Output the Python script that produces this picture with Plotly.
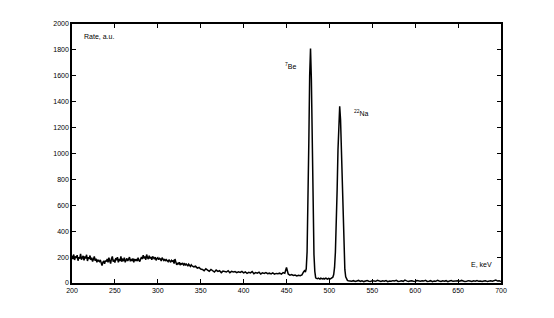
import plotly.graph_objects as go

# Energy grids (keV)
energy_a = list(range(200, 341, 1))
energy_b = list(range(342, 471, 2))
energy_peaks = list(range(471, 526, 1))
energy_high = list(range(526, 701, 2))

# Rate values (a.u.)
rate_a = [
    210, 185, 220, 178, 205, 195, 215, 172, 200, 188,
    225, 180, 196, 210, 175, 205, 190, 218, 170, 200,
    185, 212, 178, 195, 165, 190, 205, 172, 188, 160,
    180, 170, 165, 178, 150, 135, 160, 170, 148, 175,
    165,
    185, 160, 195, 172, 150, 188, 205, 165, 180, 158,
    192, 175, 200, 160, 185, 170, 205, 165, 182, 175,
    195, 160, 178, 190, 170, 185, 200, 168, 180, 172,
    190, 160, 185, 175, 180, 170, 195, 175, 165, 185,
    200, 185, 215, 190, 205, 180, 220, 195, 185, 210,
    190, 200, 180, 205, 195, 185, 200, 175, 190, 195,
    180, 190, 185, 170, 195, 180, 175, 185, 170, 180,
    175, 165, 180, 170, 160, 175, 168, 172, 150, 185,
    150, 140, 155, 145, 160, 138, 150, 145, 155, 140,
    148, 135, 150, 142, 130, 145, 138, 128, 140, 132,
]
rate_b = [
    125, 130, 115, 120, 108,
    105, 95, 110, 100, 90, 105, 95, 85, 100, 90, 95, 80, 92, 88, 85, 95, 80, 90, 85, 88, 80, 86, 82, 90, 78,
    85, 75, 82, 78, 88, 72, 80, 76, 84, 70, 78, 74, 80, 72, 76, 70, 78, 68, 74, 72, 76, 68, 80, 75, 120,
    70, 60, 65, 58, 62, 55, 60, 57, 63, 88,
]
rate_peaks = [
    95, 85, 110, 240, 560, 1080, 1600, 1810, 1570, 1060, 540, 220, 90,
    40, 36, 33, 38, 35, 30, 37, 34, 32, 36, 31, 35, 38, 33, 30, 36, 34, 31, 36, 40,
    45, 65, 120, 240, 440, 715, 1025, 1270, 1365, 1260, 1010, 700, 420, 222, 105, 48, 28,
    20, 18, 16, 19, 15,
]
rate_high = [
    14, 18, 12, 16, 20, 13, 17, 11, 15, 19,
    14, 12, 18, 16, 13, 21, 15, 12, 17, 14,
    19, 11, 16, 13, 18, 15, 20, 12, 14, 17,
    13, 22, 16, 11, 15, 18, 14, 12, 19, 16,
    13, 17, 15, 21, 12, 14, 18, 11, 16, 13,
    20, 15, 12, 17, 14, 18, 11, 16, 19, 13,
    15, 12, 17, 14, 20, 16, 11, 13, 18, 15,
    12, 17, 14, 19, 13, 16, 12, 15, 18, 11,
    14, 17, 13, 16, 22, 15, 18, 12,
]

energy = energy_a + energy_b + energy_peaks + energy_high
rate = rate_a + rate_b + rate_peaks + rate_high

x_ticks = [200, 250, 300, 350, 400, 450, 500, 550, 600, 650, 700]
y_ticks = [0, 200, 400, 600, 800, 1000, 1200, 1400, 1600, 1800, 2000]

fig = go.Figure()
fig.add_trace(go.Scatter(x=energy, y=rate, mode="lines",
                         line=dict(color="black", width=1.5), showlegend=False))

font = dict(family="Arial, Liberation Sans, sans-serif", size=7, color="black")

axis_common = dict(showgrid=False, zeroline=False, showline=True, linecolor="black",
                   linewidth=1.5, mirror="ticks", ticks="inside", ticklen=4,
                   tickwidth=1, tickcolor="black", tickfont=font)

fig.update_layout(
    width=546, height=310,
    margin=dict(l=64, r=53, t=16, b=35),
    paper_bgcolor="white", plot_bgcolor="white",
    xaxis=dict(range=[200, 700], tickvals=x_ticks, **axis_common),
    yaxis=dict(range=[0, 2000], tickvals=y_ticks, **axis_common),
    font=font,
)

fig.add_annotation(x=0.023, y=0.95, xref="paper", yref="paper", text="Rate, a.u.",
                   showarrow=False, xanchor="left", yanchor="middle", font=font)
fig.add_annotation(x=0.925, y=0.073, xref="paper", yref="paper", text="E, keV",
                   showarrow=False, xanchor="left", yanchor="middle", font=font)
fig.add_annotation(x=446, y=1676, text="<sup>7</sup>Be",
                   showarrow=False, xanchor="left", yanchor="middle", font=font)
fig.add_annotation(x=526, y=1313, text="<sup>22</sup>Na",
                   showarrow=False, xanchor="left", yanchor="middle", font=font)

fig.write_html("out.html")
